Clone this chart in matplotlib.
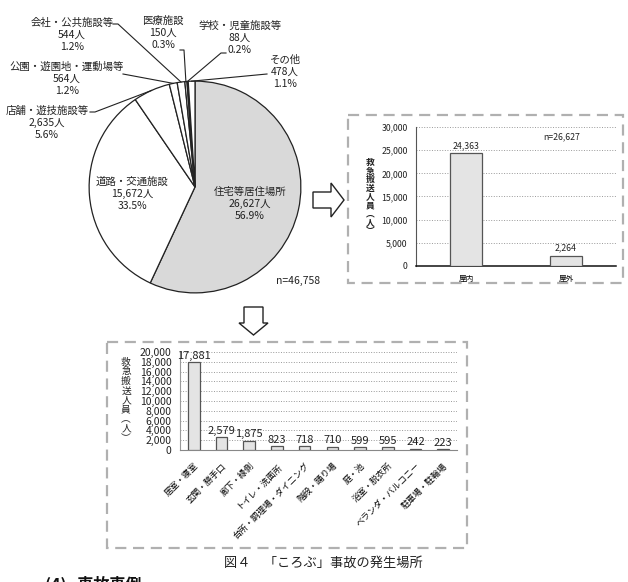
import numpy as np
import matplotlib
matplotlib.use("Agg")
import matplotlib.pyplot as plt
from matplotlib.patches import Rectangle, Polygon

plt.rcParams['font.family'] = ['Noto Sans CJK JP', 'DejaVu Sans']

# --- data ---
place_labels = ['住宅等居住場所', '道路・交通施設', '店舗・遊技施設等', '公園・遊園地・運動場等',
                '会社・公共施設等', '医療施設', '学校・児童施設等', 'その他']
place_counts = [26627, 15672, 2635, 564, 544, 150, 88, 478]
place_pct = [56.9, 33.5, 5.6, 1.2, 1.2, 0.3, 0.2, 1.1]
place_total = 46758

home_labels = ['屋内', '屋外']
home_counts = [24363, 2264]
home_total = 26627

room_labels = ['居室・寝室', '玄関・勝手口', '廊下・縁側', 'トイレ・洗面所', '台所・調理場・ダイニング',
               '階段・踊り場', '庭・池', '浴室・脱衣所', 'ベランダ・バルコニー', '駐車場・駐輪場']
room_counts = [17881, 2579, 1875, 823, 718, 710, 599, 595, 242, 223]

W, H = 628, 582
fig = plt.figure(figsize=(W / 100, H / 100), dpi=100)


def px_axes(left, top, right, bottom):
    return fig.add_axes([left / W, 1 - bottom / H, (right - left) / W, (bottom - top) / H])


# overlay in pixel coords for boxes, arrows, labels (drawn above the other axes)
over = fig.add_axes([0, 0, 1, 1])
over.set_xlim(0, W)
over.set_ylim(H, 0)
over.axis('off')
over.set_zorder(10)

dash_kw = dict(fill=False, edgecolor='#b0b0b0', linewidth=1.6, linestyle=(0, (5, 3)))
over.add_patch(Rectangle((348, 115), 275, 168, **dash_kw))
over.add_patch(Rectangle((107, 342), 360, 206, **dash_kw))

# hollow arrows
over.add_patch(Polygon([(313, 192), (331, 192), (331, 183), (344, 200), (331, 217), (331, 208), (313, 208)],
                       closed=True, facecolor='white', edgecolor='#222', linewidth=1))
over.add_patch(Polygon([(244, 307), (263, 307), (263, 323), (268, 323), (253.5, 335), (239, 323), (244, 323)],
                       closed=True, facecolor='white', edgecolor='#222', linewidth=1))

# --- pie ---
axp = px_axes(87, 79, 303, 295)
wedges, _ = axp.pie(place_counts, startangle=90, counterclock=False,
                    colors=['#d9d9d9'] + ['white'] * 7,
                    wedgeprops=dict(edgecolor='#222', linewidth=0.9))
axp.set_xlim(-1.02, 1.02)
axp.set_ylim(-1.02, 1.02)
axp.set_aspect('equal')

fig.canvas.draw()
to_over = over.transData.inverted()


def edge_point(w):
    a = np.deg2rad((w.theta1 + w.theta2) / 2)
    return to_over.transform(axp.transData.transform((np.cos(a), np.sin(a))))


def pie_text(i):
    return f'{place_labels[i]}\n{place_counts[i]:,}人\n{place_pct[i]}%'


lab_kw = dict(fontsize=7.5, ha='center', va='center', linespacing=1.25, color='#222')
inside_pos = {0: (250, 204), 1: (132, 194)}
outside = {
    # index: (text center, leader start, knee)
    2: ((47, 123), (90, 112), (95, 112)),
    3: ((67, 79), (123, 74), (123, 74)),
    4: ((72, 35), (113, 24), (118, 24)),
    5: ((163, 33), (180, 50), (184, 50)),
    6: ((240, 38), (226, 53), (221, 53)),
    7: ((285, 72), (267, 74), (267, 74)),
}
for i, (x, y) in inside_pos.items():
    over.text(x, y, pie_text(i), **lab_kw)
for i, (tpos, start, knee) in outside.items():
    over.text(tpos[0], tpos[1], pie_text(i), **lab_kw)
    ex, ey = edge_point(wedges[i])
    over.plot([start[0], knee[0], ex], [start[1], knee[1], ey], color='#222', lw=0.8)
over.text(298, 281, f'n={place_total:,}', fontsize=7.5, ha='center', va='center', color='#222')

# --- top-right bar chart ---
axh = px_axes(416, 127, 616, 266)
xh = np.arange(len(home_labels))
bh = axh.bar(xh, home_counts, width=0.32, color='#e4e4e4', edgecolor='#555', linewidth=0.9, zorder=3)
axh.bar_label(bh, labels=[f'{v:,}' for v in home_counts], padding=2, fontsize=6.3, color='#222')
axh.set_xlim(-0.5, 1.5)
axh.set_ylim(0, 30000)
axh.set_yticks(np.arange(0, 30001, 5000))
axh.set_yticklabels([f'{v:,}' for v in range(0, 30001, 5000)], fontsize=6.3, color='#222')
axh.set_xticks(xh)
axh.set_xticklabels(home_labels, fontsize=5.5)
axh.tick_params(length=0, pad=6)
axh.grid(axis='y', linestyle=':', color='#999', linewidth=0.7, zorder=0)
for s in ['top', 'right']:
    axh.spines[s].set_visible(False)
axh.spines['left'].set_color('#555')
axh.spines['bottom'].set_color('#111')
axh.spines['bottom'].set_linewidth(1.1)
axh.text(0.73, 0.91, f'n={home_total:,}', transform=axh.transAxes, fontsize=6.3, ha='center', color='#222')
over.text(370, 197, '\n'.join('救急搬送人員︵人︶'), fontsize=6.3, ha='center', va='center',
          linespacing=0.95, fontweight='bold', color='#222')

# --- bottom bar chart ---
axr = px_axes(180, 352, 457, 450)
xr = np.arange(len(room_labels))
br = axr.bar(xr, room_counts, width=0.42, color='#e4e4e4', edgecolor='#555', linewidth=0.9, zorder=3)
axr.bar_label(br, labels=[f'{v:,}' for v in room_counts], padding=1, fontsize=8, color='#222')
axr.set_xlim(-0.5, 9.5)
axr.set_ylim(0, 20000)
axr.set_yticks(np.arange(0, 20001, 2000))
axr.set_yticklabels([f'{v:,}' for v in range(0, 20001, 2000)], fontsize=7.5, color='#222')
axr.set_xticks(xr)
axr.set_xticklabels(room_labels, fontsize=6.2, rotation=45, ha='right', rotation_mode='anchor')
axr.tick_params(axis='y', length=0, pad=6)
axr.tick_params(axis='x', length=0, pad=8)
axr.grid(axis='y', linestyle=':', color='#999', linewidth=0.7, zorder=0)
for s in ['top', 'right']:
    axr.spines[s].set_visible(False)
axr.spines['left'].set_color('#999')
axr.spines['bottom'].set_color('#888')
over.text(126, 400, '\n'.join('救急搬送人員︵人︶'), fontsize=7, ha='center', va='center',
          linespacing=0.95, color='#222')

# caption and the cut-off heading below it
over.text(323, 563, '図４　「ころぶ」事故の発生場所', fontsize=9.5, ha='center', va='center', color='#222')
over.text(45, 576, '(4)   事故事例', fontsize=11.5, fontweight='bold', ha='left', va='top', color='#111')

fig.savefig('out.png', dpi=100)
